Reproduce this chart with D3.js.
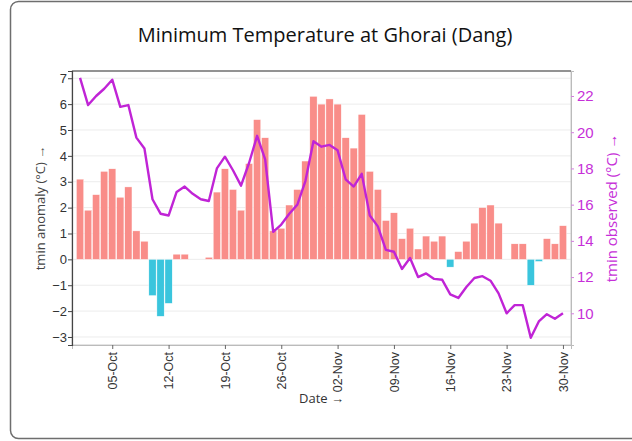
<!DOCTYPE html>
<html>
<head>
<meta charset="utf-8">
<script src="https://cdn.jsdelivr.net/npm/d3@7"></script>
<style>
  body { margin: 0; background: #fff; }
  svg { display: block; font-family: "Open Sans", "Noto Sans", sans-serif; }
</style>
</head>
<body>
<svg id="drawing_region"></svg>
<script>
// Oct 1 .. Nov 30
const startDate = new Date(2023, 9, 1);
const anomaly = [
    3.1, 1.9, 2.5, 3.4, 3.5, 2.4, 2.8, 1.1, 0.7, -1.4,
    -2.2, -1.7, 0.2, 0.2, 0, 0, 0.08, 2.6, 3.5, 2.7,
    1.9, 3.7, 5.4, 4.7, 1.1, 1.2, 2.1, 2.7, 3.8, 6.3,
    6.0, 6.2, 6.0, 4.7, 4.3, 5.6, 3.4, 2.7, 1.5, 1.8,
    0.8, 1.2, 0.4, 0.9, 0.7, 0.9, -0.3, 0.3, 0.7, 1.4,
    2.0, 2.1, 1.4, 0, 0.6, 0.6, -1.0, -0.08, 0.8, 0.6, 1.3
];
const observed = [
    23.0, 21.5, 22.0, 22.4, 22.9, 21.4, 21.5, 19.7, 19.1, 16.3,
    15.5, 15.4, 16.7, 17.0, 16.6, 16.3, 16.2, 18.0, 18.65, 17.9,
    17.05, 18.3, 19.8, 18.5, 14.5, 14.9, 15.5, 16.0, 17.3, 19.5,
    19.2, 19.3, 19.0, 17.4, 17.0, 17.7, 15.4, 14.8, 13.5, 13.4,
    12.45, 13.05, 12.0, 12.2, 11.9, 11.85, 11.05, 10.85, 11.45, 11.95,
    12.05, 11.8, 11.1, 10.0, 10.45, 10.45, 8.65, 9.55, 9.95, 9.7, 10.0
];
const tickDates = ["05-Oct", "12-Oct", "19-Oct", "26-Oct", "02-Nov", "09-Nov", "16-Nov", "23-Nov", "30-Nov"];
const leftTicks = [-3, -2, -1, 0, 1, 2, 3, 4, 5, 6, 7];
const rightTicks = [10, 12, 14, 16, 18, 20, 22];

const data = anomaly.map((a, i) => ({
    date: d3.timeDay.offset(startDate, i),
    anomaly: a,
    observed: observed[i]
}));

const config = {
    width: 632, height: 441,
    margin: {top: 71, right: 61, bottom: 96, left: 72}
};

const svg = d3.select('#drawing_region')
    .attr('width', config.width)
    .attr('height', config.height);

// outer frame
svg.append('rect')
    .attr('x', 10.5).attr('y', 1.5)
    .attr('width', 640).attr('height', 437)
    .attr('rx', 8)
    .attr('fill', 'none')
    .attr('stroke', '#6e6e6e')
    .attr('stroke-width', 1.5);

const inner_width = config.width - config.margin.left - config.margin.right;
const inner_height = config.height - config.margin.top - config.margin.bottom;

const chart = svg.append('g')
    .attr('transform', `translate(${config.margin.left}, ${config.margin.top})`);

const parseTick = d3.timeParse('%d-%b-%Y');

const xscale = d3.scaleTime()
    .domain([d3.timeDay.offset(startDate, -1), d3.timeDay.offset(startDate, 61)])
    .range([0, inner_width]);

const yscale = d3.scaleLinear()
    .domain([-3.31, 7.28])
    .range([inner_height, 0]);

const y2scale = d3.scaleLinear()
    .domain([8.25, 23.38])
    .range([inner_height, 0]);

// grid
chart.append('g').selectAll('line')
    .data(leftTicks)
    .join('line')
    .attr('x1', 0).attr('x2', inner_width)
    .attr('y1', d => yscale(d)).attr('y2', d => yscale(d))
    .attr('stroke', '#ececec')
    .attr('stroke-width', 1);

// plot frame
chart.append('rect')
    .attr('width', inner_width).attr('height', inner_height)
    .attr('fill', 'none')
    .attr('stroke', '#c8c8c8');
chart.append('line')
    .attr('x1', 0).attr('x2', inner_width)
    .attr('y1', 0).attr('y2', 0)
    .attr('stroke', '#444').attr('stroke-width', 1.2);

// bars
const dayW = xscale(d3.timeDay.offset(startDate, 1)) - xscale(startDate);
const barW = dayW - 0.8;
chart.append('g').selectAll('rect')
    .data(data)
    .join('rect')
    .attr('x', d => xscale(d.date) - barW / 2)
    .attr('y', d => yscale(Math.max(0, d.anomaly)))
    .attr('width', barW)
    .attr('height', d => Math.abs(yscale(d.anomaly) - yscale(0)))
    .attr('fill', d => d.anomaly >= 0 ? '#f98d89' : '#3ac5dd')
    .attr('stroke', '#fff')
    .attr('stroke-width', 0.4);

// line
const line = d3.line()
    .x(d => xscale(d.date))
    .y(d => y2scale(d.observed));
chart.append('path')
    .datum(data)
    .attr('d', line)
    .attr('fill', 'none')
    .attr('stroke', '#c024d6')
    .attr('stroke-width', 2.4)
    .attr('stroke-linejoin', 'round');

// axes
const xaxis = d3.axisBottom(xscale)
    .tickValues(tickDates.map(t => parseTick(t + '-2023')))
    .tickFormat(d3.timeFormat('%d-%b'))
    .tickSize(4);
const xaxis_group = chart.append('g')
    .attr('transform', `translate(0, ${inner_height})`)
    .call(xaxis);
xaxis_group.select('.domain').attr('stroke', '#bbb');
xaxis_group.selectAll('.tick line').attr('stroke', '#666');
xaxis_group.selectAll('text')
    .attr('transform', 'rotate(-90)')
    .attr('x', -7).attr('y', 0).attr('dy', '0.35em')
    .style('text-anchor', 'end')
    .style('font-size', '12.5px')
    .attr('fill', '#333');

const yaxis = d3.axisLeft(yscale)
    .tickValues(leftTicks)
    .tickFormat(d3.format('d'))
    .tickSize(4);
const yaxis_group = chart.append('g').call(yaxis);
yaxis_group.select('.domain').attr('stroke', '#444').attr('stroke-width', 1.2);
yaxis_group.selectAll('.tick line').attr('stroke', '#444');
yaxis_group.selectAll('text')
    .attr('x', -5)
    .style('font-size', '13px')
    .attr('fill', '#333');

const y2axis = d3.axisRight(y2scale)
    .tickValues(rightTicks)
    .tickSize(3);
const y2axis_group = chart.append('g')
    .attr('transform', `translate(${inner_width}, 0)`)
    .call(y2axis);
y2axis_group.select('.domain').attr('stroke', '#bbb');
y2axis_group.selectAll('.tick line').attr('stroke', '#d57fe0');
y2axis_group.selectAll('text')
    .attr('x', 6)
    .style('font-size', '15px')
    .attr('fill', '#c62fd8');

// labels
svg.append('text')
    .attr('x', 325).attr('y', 42)
    .style('text-anchor', 'middle')
    .style('font-size', '20px')
    .attr('fill', '#111')
    .text('Minimum Temperature at Ghorai (Dang)');

svg.append('text')
    .attr('transform', `translate(45, ${config.margin.top + inner_height / 2}) rotate(-90)`)
    .style('text-anchor', 'middle')
    .style('font-size', '13px')
    .attr('fill', '#444')
    .text('tmin anomaly (°C) →');

svg.append('text')
    .attr('transform', `translate(617, ${config.margin.top + inner_height / 2}) rotate(-90)`)
    .style('text-anchor', 'middle')
    .style('font-size', '15px')
    .attr('fill', '#c62fd8')
    .text('tmin observed (°C) →');

svg.append('text')
    .attr('x', config.margin.left + inner_width / 2).attr('y', 403)
    .style('text-anchor', 'middle')
    .style('font-size', '13px')
    .attr('fill', '#333')
    .text('Date →');
</script>
</body>
</html>
